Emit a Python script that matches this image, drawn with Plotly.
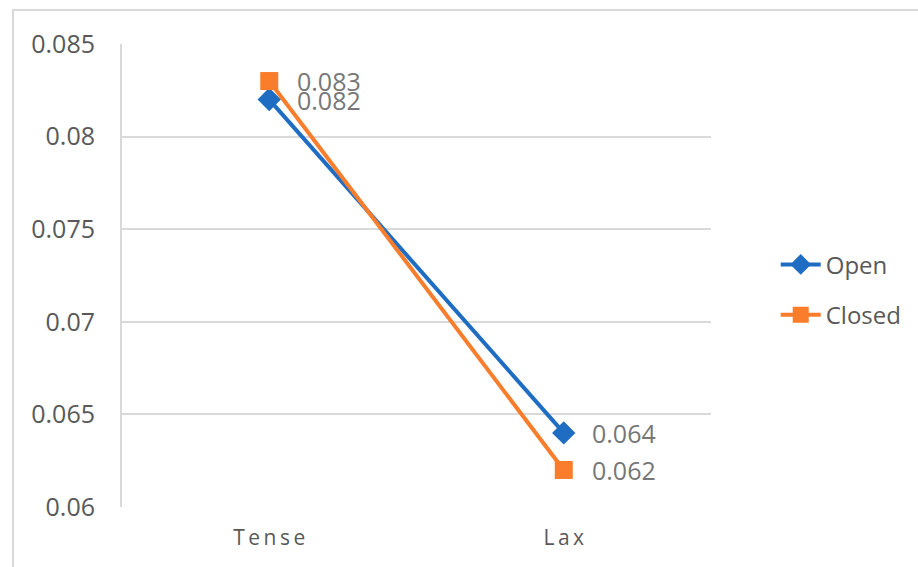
import plotly.graph_objects as go

# Categories and series values
categories = ["Tense", "Lax"]
open_values = [0.082, 0.064]
closed_values = [0.083, 0.062]
y_ticks = [0.06, 0.065, 0.07, 0.075, 0.08, 0.085]

BLUE = "#1f6dc3"
ORANGE = "#fa7d2c"
GRID = "#d9d9d9"
TEXT = "#595959"
LABEL = "#777777"
FONT = "Open Sans"

fig = go.Figure()
fig.add_trace(go.Scatter(
    x=categories, y=open_values, name="Open", mode="lines+markers",
    legendgroup="open",
    line=dict(color=BLUE, width=4),
    marker=dict(symbol="diamond", size=18, color=BLUE),
))
fig.add_trace(go.Scatter(
    x=categories, y=closed_values, name="Closed", mode="lines+markers",
    legendgroup="closed",
    line=dict(color=ORANGE, width=4),
    marker=dict(symbol="square", size=18, color=ORANGE),
))

# Value labels to the right of each point
for series in (open_values, closed_values):
    for cat, v in zip(categories, series):
        fig.add_annotation(
            x=cat, y=v, text=f"{v:.3f}", showarrow=False,
            xanchor="left", yanchor="middle", xshift=26,
            font=dict(family=FONT, size=25, color=LABEL),
        )

# Outer chart border
fig.add_shape(
    type="rect", xref="paper", yref="paper",
    x0=-0.185, x1=1.5, y0=-0.3, y1=1.0734,
    line=dict(color=GRID, width=2), fillcolor="rgba(0,0,0,0)", layer="below",
)

# Category labels drawn letter-spaced
spaced_labels = ["\u2009".join(c) for c in categories]

fig.update_layout(
    width=918, height=567,
    margin=dict(l=122, r=206, t=44, b=60),
    paper_bgcolor="white", plot_bgcolor="white",
    font=dict(family=FONT, color=TEXT),
    legend=dict(
        x=1.108, y=0.469, xanchor="left", yanchor="middle",
        font=dict(family=FONT, size=24, color=TEXT),
        tracegroupgap=16, itemwidth=40,
    ),
    xaxis=dict(
        type="category", range=[-0.5, 1.5],
        tickvals=categories, ticktext=spaced_labels,
        showgrid=False, zeroline=False, showline=False,
        ticks="", ticklabelstandoff=16,
        tickfont=dict(family=FONT, size=21, color=TEXT),
    ),
    yaxis=dict(
        range=[0.06, 0.085], tickvals=y_ticks,
        ticktext=[f"{t:g}" for t in y_ticks],
        showgrid=True, gridcolor=GRID, gridwidth=2,
        zeroline=False, showline=True, linecolor=GRID, linewidth=2,
        ticks="", ticklabelstandoff=20,
        tickfont=dict(family=FONT, size=25, color=TEXT),
    ),
)

fig.write_html("out.html")
